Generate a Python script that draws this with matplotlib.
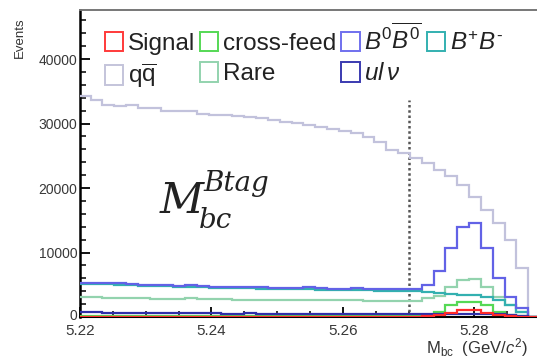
import numpy as np
import matplotlib
matplotlib.use("Agg")
import matplotlib.pyplot as plt
import matplotlib.transforms as mtransforms
from matplotlib.patches import Rectangle
from matplotlib.ticker import MultipleLocator

plt.rcParams['font.family'] = ['Liberation Sans', 'DejaVu Sans']
plt.rcParams['mathtext.fontset'] = 'custom'
plt.rcParams['mathtext.rm'] = 'Liberation Sans'
plt.rcParams['mathtext.it'] = 'Liberation Sans:italic'

# ---- data (bins of 0.0018 GeV starting at 5.2198) ----
bin_start = 5.2198
bin_width = 0.0018

qqbar = [34200, 33700, 32900, 32650, 32900, 32400, 32400, 31900, 32000, 31900,
         31500, 31370, 31260, 31100, 31000, 30850, 30600, 30170, 30080, 29700,
         29450, 29150, 28770, 28520, 27900, 27150, 25930, 25420, 24640, 23860,
         22830, 21790, 20500, 18680, 16600, 14550, 11960, 7560, 0]
b0b0bar = [5300, 5300, 5250, 5200, 5150, 5000, 4950, 4900, 4850, 4900,
           4800, 4700, 4700, 4650, 4600, 4650, 4550, 4500, 4500, 4600,
           4450, 4400, 4400, 4500, 4350, 4350, 4300, 4300, 4400, 5000,
           7100, 10700, 14000, 14500, 10700, 6000, 3150, 1450, 0]
bpbm = [5100, 5100, 5050, 5000, 4950, 4850, 4800, 4750, 4700, 4650,
        4600, 4550, 4500, 4500, 4450, 4400, 4400, 4350, 4300, 4300,
        4250, 4250, 4200, 4200, 4150, 4100, 4100, 4050, 4000, 3850,
        3700, 3550, 3450, 3350, 3100, 2600, 1900, 700, 0]
rare = [3100, 3050, 2950, 2950, 2900, 2900, 2850, 2850, 2800, 2900,
        2800, 2750, 2750, 2700, 2700, 2700, 2650, 2650, 2650, 2650,
        2600, 2600, 2600, 2600, 2550, 2550, 2500, 2500, 2450, 2900,
        3200, 4700, 5800, 5900, 4700, 3100, 1800, 700, 0]
crossfeed = [150, 150, 150, 150, 140, 140, 140, 140, 130, 130,
             130, 130, 130, 120, 120, 120, 120, 120, 120, 120,
             120, 120, 120, 120, 130, 130, 130, 140, 150, 300,
             800, 1800, 2400, 2400, 1800, 800, 300, 100, 0]
ulnu = [700, 700, 650, 650, 650, 600, 600, 600, 550, 600,
        550, 550, 500, 500, 550, 500, 500, 500, 450, 450,
        450, 450, 400, 400, 400, 400, 400, 400, 400, 400,
        450, 500, 500, 500, 450, 400, 300, 150, 0]
signal = [30, 30, 30, 30, 30, 30, 30, 30, 30, 30,
          30, 30, 30, 30, 30, 30, 30, 30, 30, 30,
          30, 30, 30, 30, 30, 30, 30, 30, 40, 100,
          250, 650, 1050, 1100, 650, 300, 100, 50, 0]

cut_value = 5.27
cut_top = 33700

x_ticks = [5.22, 5.24, 5.26, 5.28]
x_ticklabels = ['5.22', '5.24', '5.26', '5.28']
y_ticks = [0, 10000, 20000, 30000, 40000]
y_ticklabels = ['0', '10000', '20000', '30000', '40000']

edges = bin_start + bin_width * np.arange(len(qqbar) + 1)

# ---- figure ----
W, H = 537, 358
fig = plt.figure(figsize=(W / 100, H / 100), dpi=100)
L, R, T, B = 80, 540, 10, 317
ax = fig.add_axes([L / W, 1 - B / H, (R - L) / W, (B - T) / H])

series = [
    ("qqbar", qqbar, '#c2c2dc'),
    ("rare", rare, '#93d3ae'),
    ("bpbm", bpbm, '#33b0b0'),
    ("b0", b0b0bar, '#6262e6'),
    ("xfeed", crossfeed, '#55d855'),
    ("ulnu", ulnu, '#2f2fa8'),
    ("signal", signal, '#ff2a2a'),
]
for i, (name, vals, col) in enumerate(series):
    ax.stairs(vals, edges, color=col, lw=1.6, baseline=None, zorder=3 + i * 0.1)

ax.plot([cut_value, cut_value], [0, cut_top], color='#555555', lw=1.8,
        linestyle=(0, (1, 1.1)), zorder=2.6)

ax.set_xlim(5.22, 5.29)
ax.set_ylim(0, 47600)

ax.set_xticks(x_ticks)
ax.set_xticklabels(x_ticklabels)
ax.set_yticks(y_ticks)
ax.set_yticklabels(y_ticklabels)
ax.xaxis.set_minor_locator(MultipleLocator(0.005))
ax.yaxis.set_minor_locator(MultipleLocator(2000))
ax.tick_params(axis='both', which='major', direction='in', length=7, width=1.3,
               color='black', labelcolor='#383838')
ax.tick_params(axis='both', which='minor', direction='in', length=4, width=1.1,
               color='black')
ax.tick_params(axis='x', labelsize=11, pad=5)
ax.tick_params(axis='y', labelsize=10, pad=2)
zero_lbl = ax.get_yticklabels()[0]
zero_lbl.set_transform(zero_lbl.get_transform() +
                       mtransforms.ScaledTranslation(0, 3 / 100, fig.dpi_scale_trans))

ax.spines['left'].set_linewidth(1.8)
ax.spines['bottom'].set_linewidth(1.5)
ax.spines['top'].set_color('#777777')
ax.spines['top'].set_linewidth(1.4)
ax.spines['right'].set_visible(False)

# axis titles
fig.text(20 / W, 1 - 17 / H, 'Events', rotation=90, ha='center', va='top',
         fontsize=9.5, color='#333333')
fig.text(528 / W, 1 - 348 / H, r'M$_{\rm bc}$  (GeV/$c^{2}$)', ha='right',
         va='center', fontsize=12, color='#333333')

# big annotation
fig.text(160 / W, 1 - 213 / H, 'M', fontfamily='DejaVu Serif', style='italic',
         fontsize=31, color='#222222', ha='left', va='baseline')
fig.text(203 / W, 1 - 191 / H, 'Btag', fontfamily='DejaVu Serif', style='italic',
         fontsize=20, color='#222222', ha='left', va='baseline')
fig.text(199 / W, 1 - 228 / H, 'bc', fontfamily='DejaVu Serif', style='italic',
         fontsize=20, color='#222222', ha='left', va='baseline')

# legend
handles = [
    Rectangle((0, 0), 1, 1, fc='none', ec='#ff3a3a', lw=1.4),
    Rectangle((0, 0), 1, 1, fc='none', ec='#c4c4da', lw=1.4),
    Rectangle((0, 0), 1, 1, fc='none', ec='#55d855', lw=1.4),
    Rectangle((0, 0), 1, 1, fc='none', ec='#93d3ae', lw=1.4),
    Rectangle((0, 0), 1, 1, fc='none', ec='#7070ee', lw=1.4),
    Rectangle((0, 0), 1, 1, fc='none', ec='#3a3ab0', lw=1.4),
    Rectangle((0, 0), 1, 1, fc='none', ec='#33b0b0', lw=1.4),
]
labels = ['Signal', r'q$\overline{\rm q}$', 'cross-feed', 'Rare',
          r'$B^0\overline{B^0}$', r'$ul\,\nu$', r'$B^{+}B^{\text{-}}$']
leg = fig.legend(handles, labels, ncol=4, loc='upper left',
                 bbox_to_anchor=(105 / W, 1 - 24 / H), frameon=False,
                 fontsize=17.5, handlelength=0.75, handleheight=0.85,
                 handletextpad=0.18, columnspacing=0.22, labelspacing=0.3,
                 borderpad=0, borderaxespad=0)
for t in leg.get_texts():
    t.set_color('#222222')

fig.savefig('out.png', dpi=100)
